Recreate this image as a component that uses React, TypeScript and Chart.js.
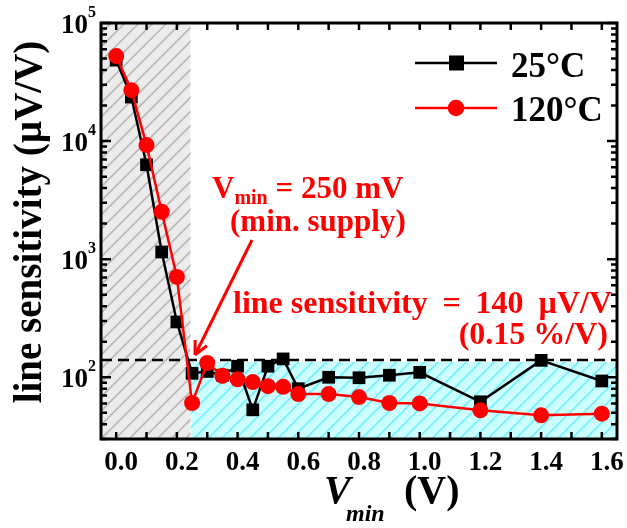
import React, { useEffect, useRef } from 'react';
import { Chart, registerables } from 'chart.js';

Chart.register(...registerables);

// ---- data ----
const VMIN = [0, 0.05, 0.1, 0.15, 0.2, 0.25, 0.3, 0.35, 0.4, 0.45, 0.5, 0.55, 0.6, 0.7, 0.8, 0.9, 1.0, 1.2, 1.4, 1.6];
const LS_25C = [48500, 23600, 6300, 1150, 294, 108, 112, 104, 124, 53, 124, 143, 80, 100, 99, 104, 110, 62, 139, 93];
const LS_120C = [52500, 27000, 9250, 2520, 708, 60.5, 132, 103, 96, 91, 84, 83, 72, 72, 68, 60.5, 60, 52.5, 47.6, 49.2];
const SERIES_LABELS = ['25°C', '120°C'];
const X_TICKS = [0, 0.2, 0.4, 0.6, 0.8, 1.0, 1.2, 1.4, 1.6];
const Y_TICKS = [100, 1000, 10000, 100000];
const X_RANGE = [-0.05, 1.65];
const Y_RANGE = [30, 100000];
const SUPPLY_LIMIT = 0.245; // end of unusable supply region
const SPEC_LEVEL = 140; // line sensitivity spec (µV/V)
const SPEC_FILL_TOP = 135;

const FONT = '"Liberation Serif", "Times New Roman", serif';
const RED = '#ff0000';

function hatch(ctx: CanvasRenderingContext2D, x0: number, y0: number, x1: number, y1: number, bg: string, line: string, step: number) {
  ctx.save();
  ctx.beginPath();
  ctx.rect(x0, y0, x1 - x0, y1 - y0);
  ctx.clip();
  ctx.fillStyle = bg;
  ctx.fillRect(x0, y0, x1 - x0, y1 - y0);
  ctx.strokeStyle = line;
  ctx.lineWidth = 1.6;
  const h = y1 - y0;
  ctx.beginPath();
  for (let k = x0 - h - 4; k < x1 + 4; k += step) {
    ctx.moveTo(k, y1);
    ctx.lineTo(k + h, y0);
  }
  ctx.stroke();
  ctx.restore();
}

const decorPlugin = {
  id: 'decor',
  beforeDatasetsDraw(chart: any) {
    const { ctx, chartArea: a, scales } = chart;
    const x = scales.x, y = scales.y;
    const gx = x.getPixelForValue(SUPPLY_LIMIT);
    hatch(ctx, a.left, a.top, gx, a.bottom, '#ececec', '#b9b9b9', 14);
    hatch(ctx, gx, y.getPixelForValue(SPEC_FILL_TOP), a.right, a.bottom, '#ccffff', '#6ff0ff', 14);
    // spec dashed line
    ctx.save();
    ctx.strokeStyle = '#000';
    ctx.lineWidth = 2.5;
    ctx.setLineDash([11, 6]);
    const sy = y.getPixelForValue(SPEC_LEVEL);
    ctx.beginPath();
    ctx.moveTo(a.left, sy);
    ctx.lineTo(a.right, sy);
    ctx.stroke();
    ctx.restore();
  },
  afterDraw(chart: any) {
    const { ctx, chartArea: a, scales } = chart;
    const x = scales.x, y = scales.y;
    ctx.save();
    // frame
    ctx.strokeStyle = '#000';
    ctx.lineWidth = 3;
    ctx.strokeRect(a.left, a.top, a.right - a.left, a.bottom - a.top);
    // x ticks (inward, top and bottom)
    ctx.lineWidth = 2.5;
    ctx.beginPath();
    for (let i = Math.ceil(x.min * 10); i <= Math.floor(x.max * 10); i++) {
      const px = x.getPixelForValue(i / 10);
      ctx.moveTo(px, a.bottom);
      ctx.lineTo(px, a.bottom - 7);
      ctx.moveTo(px, a.top);
      ctx.lineTo(px, a.top + 7);
    }
    // y ticks (inward, left and right)
    for (let d = 1; d <= 5; d++) {
      for (let m = 1; m <= 9; m++) {
        const v = m * Math.pow(10, d);
        if (v < y.min - 1e-9 || v > y.max + 1e-9) continue;
        const py = y.getPixelForValue(v);
        const len = m === 1 ? 10 : 6;
        ctx.moveTo(a.left, py);
        ctx.lineTo(a.left + len, py);
        ctx.moveTo(a.right, py);
        ctx.lineTo(a.right - len, py);
      }
    }
    ctx.stroke();

    // y tick labels 10^n
    ctx.fillStyle = '#000';
    for (const v of Y_TICKS) {
      const py = y.getPixelForValue(v);
      const e = String(Math.round(Math.log10(v)));
      ctx.font = `bold 27px ${FONT}`;
      ctx.textAlign = 'right';
      ctx.textBaseline = 'alphabetic';
      ctx.fillText('10', 88, py + 10);
      ctx.font = `bold 16px ${FONT}`;
      ctx.textAlign = 'left';
      ctx.fillText(e, 88, py - 6);
    }

    // y axis title
    ctx.save();
    ctx.translate(31, 222);
    ctx.rotate(-Math.PI / 2);
    ctx.font = `bold 39px ${FONT}`;
    ctx.textAlign = 'center';
    ctx.textBaseline = 'middle';
    ctx.fillText('line sensitivity (µV/V)', 0, 0);
    ctx.restore();

    // x axis title
    ctx.textAlign = 'left';
    ctx.textBaseline = 'alphabetic';
    ctx.font = `italic bold 40px ${FONT}`;
    ctx.fillText('V', 324, 503);
    ctx.font = `italic bold 24px ${FONT}`;
    ctx.fillText('min', 346, 521);
    ctx.font = `bold 40px ${FONT}`;
    ctx.fillText('(V)', 404, 503);

    // legend
    const legend = [
      { label: SERIES_LABELS[0], color: '#000', shape: 'rect', y: 63, ty: 77 },
      { label: SERIES_LABELS[1], color: RED, shape: 'circle', y: 108, ty: 121 },
    ];
    for (const l of legend) {
      ctx.strokeStyle = l.color;
      ctx.fillStyle = l.color;
      ctx.lineWidth = 2.5;
      ctx.beginPath();
      ctx.moveTo(415, l.y);
      ctx.lineTo(497, l.y);
      ctx.stroke();
      if (l.shape === 'rect') ctx.fillRect(449, l.y - 7.5, 15, 15);
      else {
        ctx.beginPath();
        ctx.arc(456, l.y, 8.3, 0, Math.PI * 2);
        ctx.fill();
      }
      ctx.fillStyle = '#000';
      ctx.font = `bold 35px ${FONT}`;
      ctx.fillText(l.label, 511, l.ty);
    }

    // annotations
    ctx.fillStyle = RED;
    ctx.strokeStyle = RED;
    let xx = 212;
    ctx.font = `bold 31px ${FONT}`;
    ctx.fillText('V', xx, 198);
    xx += ctx.measureText('V').width;
    ctx.font = `bold 20px ${FONT}`;
    ctx.fillText('min', xx, 204);
    xx += ctx.measureText('min').width;
    ctx.font = `bold 31px ${FONT}`;
    ctx.fillText(' = 250 mV', xx, 198);
    ctx.fillText('(min. supply)', 230, 231);

    ctx.font = `bold 32px ${FONT}`;
    const part1 = 'line sensitivity ';
    const part2 = '= 140 µV/V';
    const w1 = ctx.measureText(part1).width;
    const w2 = ctx.measureText(part2).width;
    const extra = Math.max(0, (612 - 233 - w1 - w2) / 3);
    ctx.fillText(part1, 233, 313);
    (ctx as any).wordSpacing = `${extra}px`;
    ctx.fillText(part2, 233 + w1 + extra, 313);
    (ctx as any).wordSpacing = '0px';
    ctx.textAlign = 'right';
    ctx.fillText('(0.15 %/V)', 608, 344);

    // arrow
    const sx = 252, sy = 240, tx = 195, ty = 355;
    ctx.lineWidth = 3;
    ctx.beginPath();
    ctx.moveTo(sx, sy);
    ctx.lineTo(tx, ty);
    const ang = Math.atan2(sy - ty, sx - tx);
    for (const s of [-0.45, 0.45]) {
      ctx.moveTo(tx, ty);
      ctx.lineTo(tx + 15 * Math.cos(ang + s), ty + 15 * Math.sin(ang + s));
    }
    ctx.stroke();
    ctx.restore();
  },
};

export default function App() {
  const ref = useRef<HTMLCanvasElement>(null);
  useEffect(() => {
    document.body.style.margin = '0';
    if (!ref.current) return;
    const chart = new Chart(ref.current, {
      type: 'line',
      data: {
        datasets: [
          {
            label: SERIES_LABELS[0],
            data: VMIN.map((v, i) => ({ x: v, y: LS_25C[i] })),
            borderColor: '#000',
            backgroundColor: '#000',
            borderWidth: 2.5,
            pointStyle: 'rect',
            pointRadius: 9,
            pointBorderWidth: 0,
            order: 1,
          },
          {
            label: SERIES_LABELS[1],
            data: VMIN.map((v, i) => ({ x: v, y: LS_120C[i] })),
            borderColor: RED,
            backgroundColor: RED,
            borderWidth: 2.5,
            pointStyle: 'circle',
            pointRadius: 8,
            pointBorderWidth: 0,
            order: 0,
          },
        ],
      },
      options: {
        responsive: false,
        animation: false,
        devicePixelRatio: 1,
        layout: { padding: { left: 0, right: 10, top: 23, bottom: 0 } },
        plugins: { legend: { display: false }, tooltip: { enabled: false } },
        scales: {
          x: {
            type: 'linear',
            min: X_RANGE[0],
            max: X_RANGE[1],
            grid: { display: false, drawTicks: false },
            border: { display: false },
            afterBuildTicks: (s: any) => {
              s.ticks = X_TICKS.map((value) => ({ value }));
            },
            afterFit: (s: any) => {
              s.height = 89;
            },
            ticks: {
              color: '#000',
              font: { family: FONT, size: 27, weight: 'bold' },
              padding: 8,
              labelOffset: 5,
              maxRotation: 0,
              autoSkip: false,
              callback: (v: any) => Number(v).toFixed(1),
            },
          },
          y: {
            type: 'logarithmic',
            min: Y_RANGE[0],
            max: Y_RANGE[1],
            grid: { display: false, drawTicks: false },
            border: { display: false },
            afterBuildTicks: (s: any) => {
              s.ticks = Y_TICKS.map((value) => ({ value }));
            },
            afterFit: (s: any) => {
              s.width = 101;
            },
            ticks: { display: false },
          },
        },
      },
      plugins: [decorPlugin],
    } as any);
    return () => chart.destroy();
  }, []);
  return <canvas ref={ref} width={627} height={528} style={{ display: 'block' }} />;
}
